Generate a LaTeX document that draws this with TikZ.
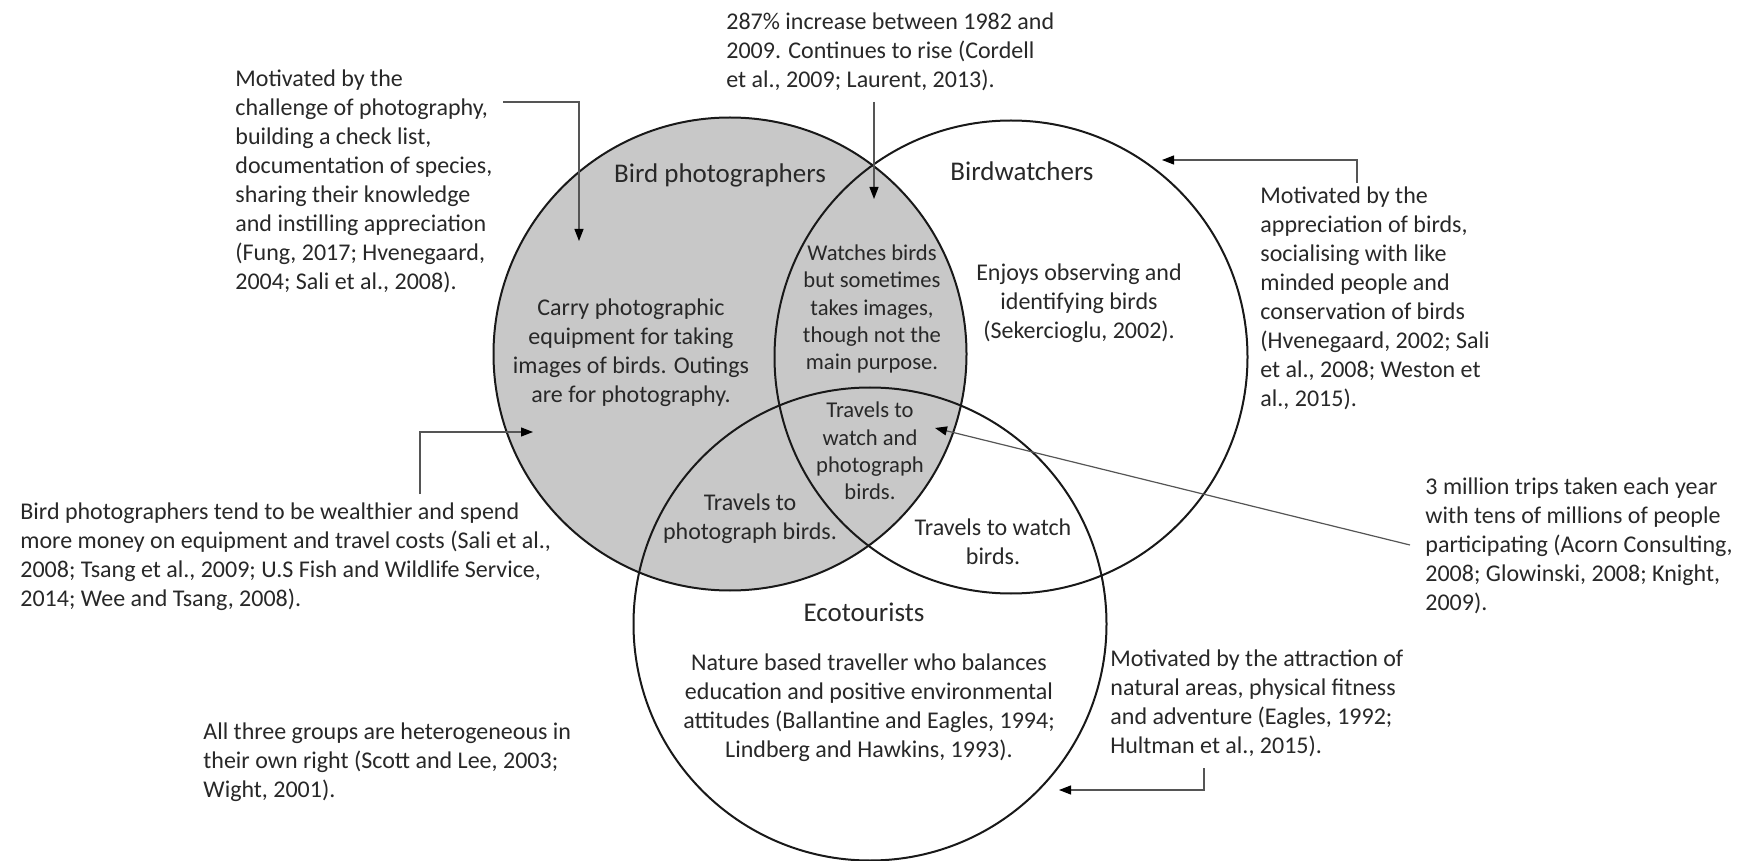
\documentclass[tikz,border=0pt]{standalone}
\usepackage{fontspec}
\setmainfont{Carlito}
\usetikzlibrary{arrows.meta}
\definecolor{txtc}{RGB}{40,40,40}
\definecolor{fillc}{RGB}{200,200,200}
\definecolor{linec}{RGB}{25,25,25}
\definecolor{arrc}{RGB}{85,85,85}
\begin{document}
\begin{tikzpicture}[x=0.5pt,y=-0.5pt,
  body/.style={font=\fontsize{12}{14.5}\selectfont, text=txtc, inner sep=0pt},
  lft/.style={body, align=left, anchor=west},
  ctr/.style={body, align=center},
  mid/.style={font=\fontsize{11.3}{13.6}\selectfont, text=txtc, inner sep=0pt, align=center},
  title/.style={font=\fontsize{13.5}{16}\selectfont, text=txtc, inner sep=0pt},
  ring/.style={circle, draw=linec, line width=1pt, minimum size=236.5pt, inner sep=0pt},
  conn/.style={draw=arrc, line width=0.6pt, -{Triangle[length=6pt,width=4.5pt,color=black]}}
]
\useasboundingbox (0,0) rectangle (1742,861);
\fill[white] (0,0) rectangle (1742,861);
\node[ring, fill=fillc] (bp) at (730,354) {};
\node[ring] (bw) at (1011,357) {};
\node[ring] (eco) at (870,624) {};

\node[lft] (mot1) at (235,181) {Motivated by the\\challenge of photography,\\building a check list,\\documentation of species,\\sharing their knowledge\\and instilling appreciation\\(Fung, 2017; Hvenegaard,\\2004; Sali et al., 2008).};
\node[lft] (incr) at (726,52) {287\% increase between 1982 and\\2009. Continues to rise (Cordell\\et al., 2009; Laurent, 2013).};
\node[title] (tbp) at (720,175) {Bird photographers};
\node[title] (tbw) at (1022,171) {Birdwatchers};
\node[ctr] (carry) at (631,353) {Carry photographic\\equipment for taking\\images of birds. Outings\\are for photography.};
\node[mid] (watch) at (872,309) {Watches birds\\but sometimes\\takes images,\\though not the\\main purpose.};
\node[ctr] (enjoy) at (1079,303) {Enjoys observing and\\identifying birds\\(Sekercioglu, 2002).};
\node[lft] (mot2) at (1260,298) {Motivated by the\\appreciation of birds,\\socialising with like\\minded people and\\conservation of birds\\(Hvenegaard, 2002; Sali\\et al., 2008; Weston et\\al., 2015).};
\node[mid] (all3) at (870,451) {Travels to\\watch and\\photograph\\birds.};
\node[ctr] (tph) at (750,519) {Travels to\\photograph birds.};
\node[ctr] (twb) at (993,542) {Travels to watch\\birds.};
\node[title] (teco) at (864,612) {Ecotourists};
\node[ctr] (nat) at (869,708) {Nature based traveller who balances\\education and positive environmental\\attitudes (Ballantine and Eagles, 1994;\\Lindberg and Hawkins, 1993).};
\node[lft] (wealth) at (20,557) {Bird photographers tend to be wealthier and spend\\more money on equipment and travel costs (Sali et al.,\\2008; Tsang et al., 2009; U.S Fish and Wildlife Service,\\2014; Wee and Tsang, 2008).};
\node[lft] (hetero) at (203,762) {All three groups are heterogeneous in\\their own right (Scott and Lee, 2003;\\Wight, 2001).};
\node[lft] (mot3) at (1110,703) {Motivated by the attraction of\\natural areas, physical fitness\\and adventure (Eagles, 1992;\\Hultman et al., 2015).};
\node[lft] (trips) at (1425,546) {3 million trips taken each year\\with tens of millions of people\\participating (Acorn Consulting,\\2008; Glowinski, 2008; Knight,\\2009).};

\coordinate (a1s) at (503,102); \coordinate (a1e) at (579,241);
\coordinate (a2s) at (874,102); \coordinate (a2e) at (874,199);
\coordinate (a3s) at (1357,183); \coordinate (a3e) at (1162,160);
\coordinate (a4s) at (420,494); \coordinate (a4e) at (533,432);
\coordinate (a5s) at (1410,545); \coordinate (a5e) at (935,428);
\coordinate (a6s) at (1204,768); \coordinate (a6e) at (1059,790);
\draw[conn] (a1s) -| (a1e);
\draw[conn] (a2s) -- (a2e);
\draw[conn] (a3s) |- (a3e);
\draw[conn] (a4s) |- (a4e);
\draw[conn] (a5s) -- (a5e);
\draw[conn] (a6s) |- (a6e);
\end{tikzpicture}
\end{document}
